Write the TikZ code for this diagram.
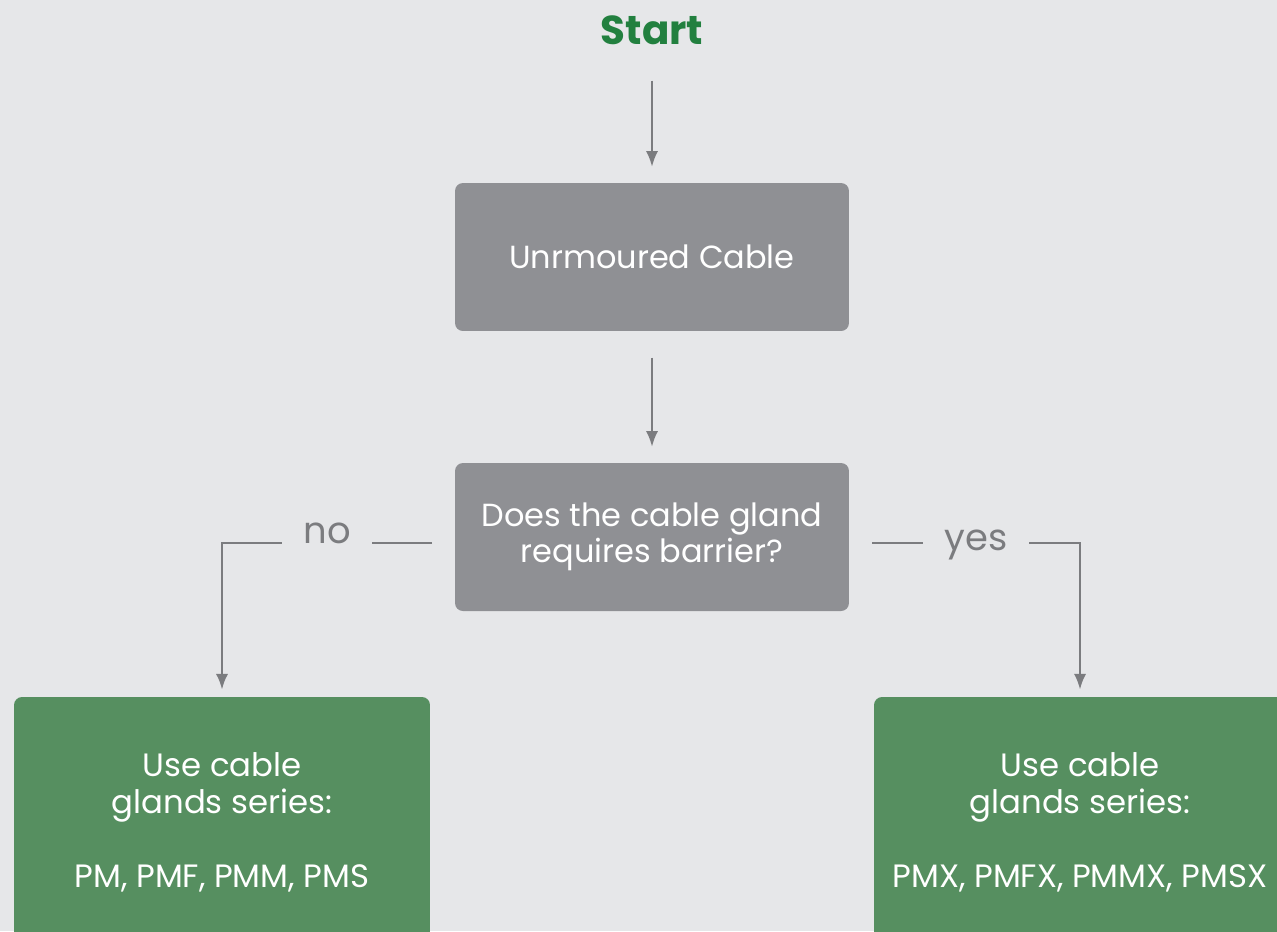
\documentclass[tikz,border=0pt]{standalone}
\usepackage{fontspec}
\setmainfont{Poppins}
\usetikzlibrary{arrows.meta}
\definecolor{bgcol}{HTML}{E6E7E9}
\definecolor{boxgray}{HTML}{8F9094}
\definecolor{boxgreen}{HTML}{568F60}
\definecolor{startgreen}{HTML}{22803F}
\definecolor{linegray}{HTML}{7B7C7F}
\tikzset{
    proc/.style = {
        fill=boxgray, rectangle, rounded corners=4.5pt, align=center,
        text=white,
        minimum width=7.88cm,
        minimum height=2.96cm,
        font=\fontsize{18.2}{20.5}\selectfont
    },
    pick/.style = {
        fill=boxgreen, rectangle, rounded corners=4.5pt, align=center,
        text=white,
        minimum height=5cm,
        font=\fontsize{18.4}{21}\selectfont
    },
    flow/.style = {draw=linegray, line width=1.4pt, -{Latex[length=9pt,width=7pt]}},
    answer/.style = {
        fill=bgcol, text=linegray, anchor=base,
        inner xsep=12pt, inner ysep=5pt,
        font=\fontsize{21}{25}\selectfont
    }
}

\begin{document}
\begin{tikzpicture}[x=0.02cm,y=-0.02cm]

% 1. page and background
\useasboundingbox (0,0) rectangle (1277,931);
\fill[bgcol] (0,0) rectangle (1277,931);

% 2. boxes
\node[text=startgreen, font=\fontsize{23}{27}\bfseries] (start) at (652,30) {Start};
\node[proc] (unarm) at (652,257) {Unrmoured Cable};
\node[proc] (barrier) at (652,537) {Does the cable gland\\ requires barrier?};
\node[pick, minimum width=8.32cm] (usepm) at (222,822)
  {Use cable\\ glands series:\\[21pt] PM, PMF, PMM, PMS};
\node[pick, minimum width=8.24cm] (usepmx) at (1080,822)
  {Use cable\\ glands series:\\[21pt] PMX, PMFX, PMMX, PMSX};

% 3. arrows and labels
\draw[flow, shorten <=17pt, shorten >=9pt] (start) -- (unarm);
\draw[flow, shorten <=15pt, shorten >=9pt] (unarm) -- (barrier);

\coordinate (noA)  at (432,543);
\coordinate (noB)  at (222,543);
\coordinate (yesA) at (872,543);
\coordinate (yesB) at (1080,543);
\draw[flow, shorten >=4pt] (noA) -- node[answer, yshift=-0.5pt] {no} (noB) -- (usepm);
\draw[flow, shorten >=4pt] (yesA) -- node[answer, yshift=-4pt] {yes} (yesB) -- (usepmx);

\end{tikzpicture}
\end{document}
